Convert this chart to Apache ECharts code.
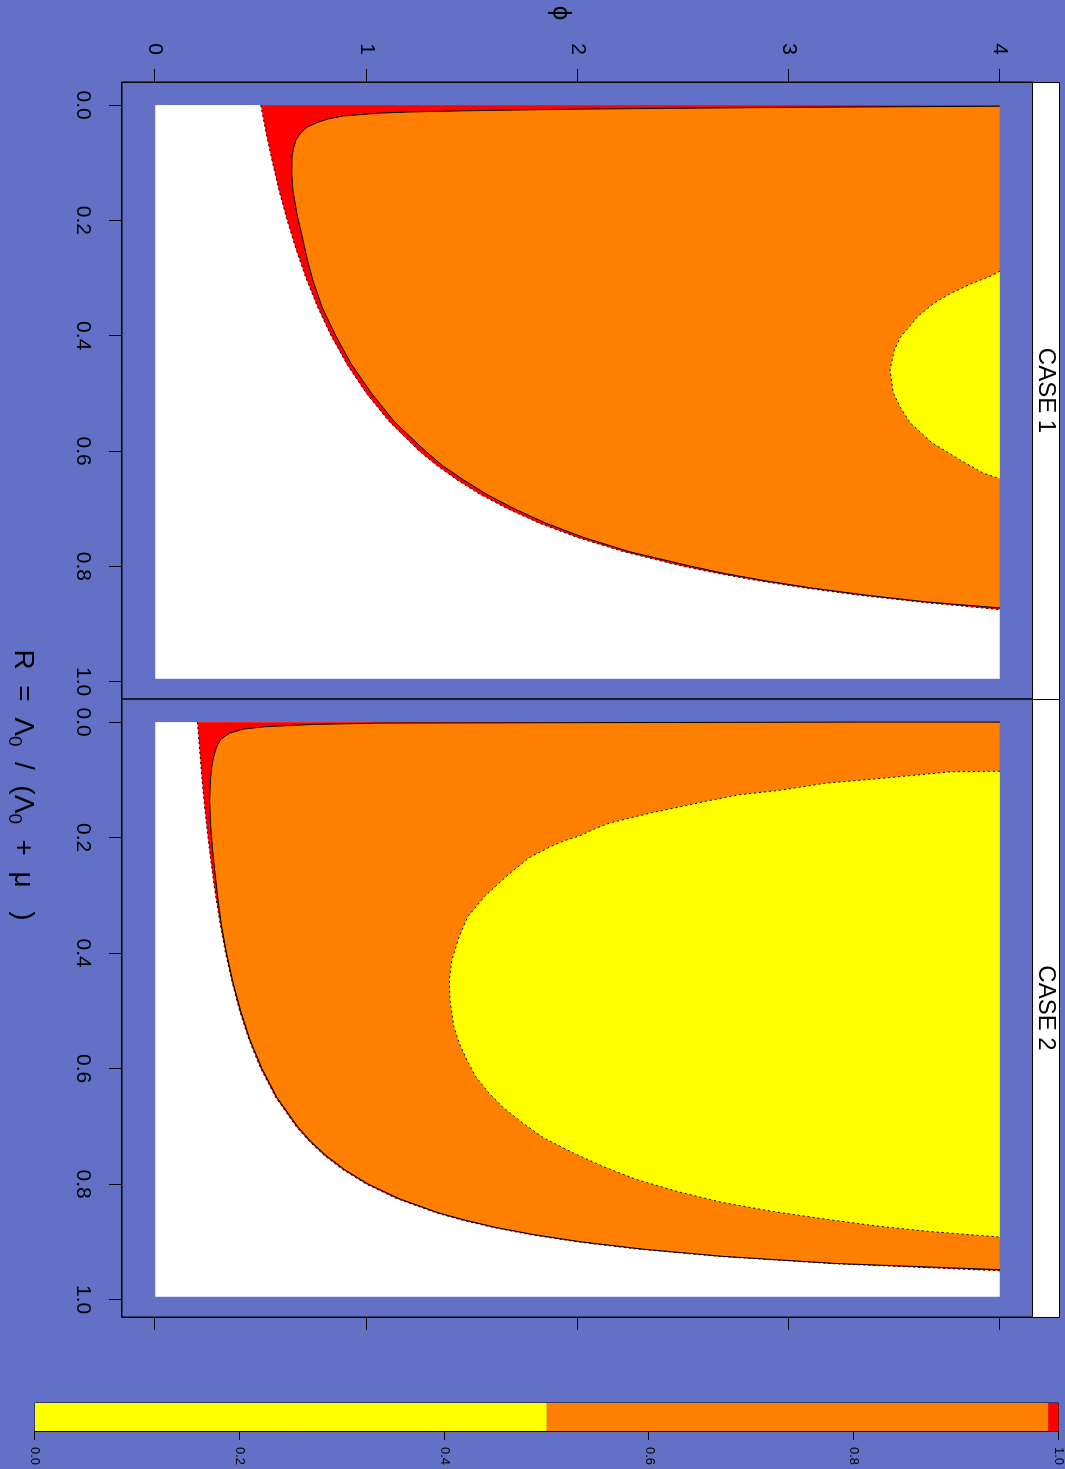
<!DOCTYPE html>
<html>
<head>
<meta charset="utf-8">
<script src="https://cdn.jsdelivr.net/npm/echarts@6/dist/echarts.min.js"></script>
<style>
  html, body { margin: 0; padding: 0; width: 1065px; height: 1469px; background: #6270c6; overflow: hidden; }
  /* the plot is laid out landscape and turned a quarter clockwise, like the reference */
  #chart { position: absolute; left: 0; top: 0; width: 1469px; height: 1065px;
    transform-origin: 0 0; transform: translate(1065px, 0) rotate(90deg); }
</style>
</head>
<body>
<div id="chart"></div>
<script>
var rTicks = [0, 0.2, 0.4, 0.6, 0.8, 1.0]
var phiTicks = [0, 1, 2, 3, 4]
var keyTicks = [0, 0.2, 0.4, 0.6, 0.8, 1.0]
var panelNames = ['CASE 1', 'CASE 2']
var rDomain = [0, 0.995]
var phiDomain = [0, 4]

// level boundaries, as [R, phi]
// CASE 1
var white1 = [[0, 0.5], [0.05, 0.526], [0.1, 0.556], [0.15, 0.588], [0.2, 0.625], [0.25, 0.667],
  [0.3, 0.714], [0.35, 0.769], [0.4, 0.833], [0.45, 0.909], [0.5, 1.0], [0.55, 1.111], [0.6, 1.25],
  [0.625, 1.333], [0.65, 1.429], [0.675, 1.538], [0.7, 1.667], [0.725, 1.818], [0.75, 2.0],
  [0.775, 2.222], [0.8, 2.5], [0.8125, 2.667], [0.825, 2.857], [0.8375, 3.077], [0.85, 3.333],
  [0.8625, 3.636], [0.875, 4.0]]
var orange1 = [[0.002, 4.0], [0.004, 3.0], [0.007, 2.0], [0.01, 1.45], [0.012, 1.2], [0.014, 1.06],
  [0.019, 0.89], [0.024, 0.82], [0.03, 0.77], [0.038, 0.72], [0.048, 0.69], [0.06, 0.667],
  [0.075, 0.655], [0.09, 0.648], [0.12, 0.647], [0.147, 0.652], [0.19, 0.672], [0.234, 0.70],
  [0.27, 0.722], [0.303, 0.746], [0.35, 0.79], [0.4, 0.855], [0.45, 0.93], [0.5, 1.025], [0.55, 1.135],
  [0.6, 1.28], [0.625, 1.36], [0.65, 1.46], [0.675, 1.57], [0.7, 1.70], [0.725, 1.85], [0.75, 2.03],
  [0.775, 2.25], [0.8, 2.54], [0.8125, 2.70], [0.825, 2.89], [0.8375, 3.11], [0.85, 3.37],
  [0.8615, 3.65], [0.872, 4.0]]
var yellow1 = [[0.288, 4.0], [0.296, 3.96], [0.309, 3.87], [0.326, 3.77], [0.343, 3.69], [0.367, 3.61],
  [0.385, 3.57], [0.402, 3.53], [0.425, 3.50], [0.459, 3.48], [0.499, 3.495], [0.525, 3.53],
  [0.551, 3.575], [0.586, 3.68], [0.615, 3.81], [0.638, 3.92], [0.648, 4.0]]
// CASE 2
var white2 = [[0, 0.2], [0.05, 0.211], [0.1, 0.222], [0.15, 0.235], [0.2, 0.25], [0.25, 0.267],
  [0.3, 0.286], [0.35, 0.308], [0.4, 0.333], [0.45, 0.364], [0.5, 0.4], [0.55, 0.444], [0.6, 0.5],
  [0.65, 0.571], [0.7, 0.667], [0.725, 0.727], [0.75, 0.8], [0.775, 0.889], [0.8, 1.0], [0.825, 1.143],
  [0.85, 1.333], [0.8625, 1.455], [0.875, 1.6], [0.8875, 1.778], [0.9, 2.0], [0.9125, 2.286],
  [0.925, 2.667], [0.9375, 3.2], [0.95, 4.0]]
var orange2 = [[0, 4.0], [0, 3.35], [0.001, 2.0], [0.0017, 1.063], [0.004, 0.75], [0.008, 0.52],
  [0.012, 0.42], [0.019, 0.353], [0.03, 0.31], [0.043, 0.291], [0.06, 0.277], [0.078, 0.268],
  [0.1, 0.262], [0.135, 0.258], [0.18, 0.263], [0.221, 0.272], [0.26, 0.283], [0.303, 0.296],
  [0.35, 0.313], [0.4, 0.338], [0.45, 0.368], [0.5, 0.405], [0.55, 0.449], [0.6, 0.506], [0.65, 0.577],
  [0.7, 0.674], [0.725, 0.735], [0.75, 0.808], [0.775, 0.898], [0.8, 1.01], [0.825, 1.155],
  [0.85, 1.345], [0.8625, 1.47], [0.875, 1.615], [0.8875, 1.795], [0.9, 2.02], [0.9125, 2.31],
  [0.925, 2.69], [0.9375, 3.23], [0.948, 4.0]]
var yellow2 = [[0.085, 4.0], [0.086, 3.77], [0.097, 3.45], [0.106, 3.17], [0.118, 2.96], [0.126, 2.76],
  [0.137, 2.61], [0.147, 2.48], [0.157, 2.35], [0.166, 2.25], [0.175, 2.15], [0.185, 2.08],
  [0.197, 2.01], [0.205, 1.94], [0.216, 1.87], [0.235, 1.77], [0.268, 1.66], [0.302, 1.56],
  [0.337, 1.48], [0.371, 1.44], [0.412, 1.405], [0.446, 1.393], [0.481, 1.396], [0.527, 1.414],
  [0.556, 1.44], [0.585, 1.476], [0.614, 1.518], [0.642, 1.58], [0.668, 1.65], [0.694, 1.74],
  [0.72, 1.84], [0.746, 1.98], [0.77, 2.125], [0.792, 2.28], [0.813, 2.475], [0.832, 2.69],
  [0.847, 2.92], [0.862, 3.2], [0.873, 3.43], [0.882, 3.67], [0.891, 3.98], [0.892, 4.0]]

// colour key breaks
var keyBreaks = [0, 0.5, 0.99, 1.0]

var levelColors = ['#ffff00', '#ff8000', '#ff0000']
var font = 'Liberation Sans, Arial, Helvetica, sans-serif'

function poly(idx, pts, fill, z) {
  return {
    type: 'custom', xAxisIndex: idx, yAxisIndex: idx, z: z, silent: true, clip: true,
    data: [pts[0]],
    renderItem: function (params, api) {
      return {
        type: 'polygon',
        shape: { points: pts.map(function (p) { return api.coord(p) }) },
        style: { fill: fill }
      }
    }
  }
}

function curve(idx, pts, type) {
  return {
    type: 'line', xAxisIndex: idx, yAxisIndex: idx, data: pts, symbol: 'none', z: 6, silent: true,
    lineStyle: { color: '#000', width: 1, type: type }
  }
}

function panelSeries(idx, white, orange, yellow) {
  var box = [[rDomain[0], phiDomain[0]], [rDomain[1], phiDomain[0]], [rDomain[1], phiDomain[1]], [rDomain[0], phiDomain[1]]]
  return [
    poly(idx, box, '#ffffff', 1),
    poly(idx, white.concat([[0, phiDomain[1]]]), levelColors[2], 2),
    poly(idx, orange, levelColors[1], 3),
    poly(idx, yellow, levelColors[0], 4),
    curve(idx, white, [2, 3]),
    curve(idx, orange, 'solid'),
    curve(idx, yellow, [2, 3])
  ]
}

function rAxis(idx) {
  return {
    type: 'value', gridIndex: idx, min: -0.04, max: 1.03, position: 'bottom',
    axisLine: { show: true, onZero: false, lineStyle: { color: '#000' } },
    axisTick: { show: true, customValues: rTicks, length: 13, lineStyle: { color: '#000' } },
    axisLabel: { customValues: rTicks, fontSize: 21, color: '#000', margin: 29, fontFamily: font,
      formatter: function (v) { return v.toFixed(1) } },
    splitLine: { show: false }
  }
}

function phiAxis(idx, side, labels) {
  return {
    type: 'value', gridIndex: idx, min: -0.157, max: 4.157, position: side,
    axisLine: { show: true, onZero: false, lineStyle: { color: '#000' } },
    axisTick: { show: true, customValues: phiTicks, length: 13, lineStyle: { color: '#000' } },
    axisLabel: { show: labels, customValues: phiTicks, fontSize: 21, color: '#000', margin: 27, fontFamily: font },
    splitLine: { show: false }
  }
}

var keyData = keyBreaks.slice(0, -1).map(function (v, i) { return [v, keyBreaks[i + 1]] })

var chart = echarts.init(document.getElementById('chart'))
chart.setOption({
  animation: false,
  backgroundColor: '#6270c6',
  textStyle: { fontFamily: font },
  grid: [
    { left: 82, top: 32, width: 617, height: 911, show: true, borderColor: '#000', borderWidth: 1, backgroundColor: 'transparent' },
    { left: 699, top: 32, width: 618, height: 911, show: true, borderColor: '#000', borderWidth: 1, backgroundColor: 'transparent' },
    { left: 1403, top: 4, width: 28, height: 1026, show: true, borderColor: '#000', borderWidth: 1, backgroundColor: 'transparent' }
  ],
  xAxis: [rAxis(0), rAxis(1), { type: 'value', gridIndex: 2, min: 0, max: 1, show: false }],
  yAxis: [
    phiAxis(0, 'left', true),
    phiAxis(1, 'right', false),
    {
      type: 'value', gridIndex: 2, min: 0, max: 1, position: 'right',
      axisLine: { show: true, onZero: false, lineStyle: { color: '#000' } },
      axisTick: { show: true, customValues: keyTicks, length: 9, lineStyle: { color: '#000' } },
      axisLabel: { customValues: keyTicks, fontSize: 13, color: '#000', margin: 16, fontFamily: font,
        formatter: function (v) { return v.toFixed(1) } },
      splitLine: { show: false }
    }
  ],
  series: panelSeries(0, white1, orange1, yellow1)
    .concat(panelSeries(1, white2, orange2, yellow2))
    .concat([{
      type: 'custom', xAxisIndex: 2, yAxisIndex: 2, silent: true, z: 2,
      data: keyData,
      renderItem: function (params, api) {
        var p0 = api.coord([0, api.value(0)])
        var p1 = api.coord([1, api.value(1)])
        return {
          type: 'rect',
          shape: { x: p0[0], y: p1[1], width: p1[0] - p0[0], height: p0[1] - p1[1] },
          style: { fill: levelColors[params.dataIndex] }
        }
      }
    }]),
  graphic: [
    { type: 'rect', z: 10, shape: { x: 82.5, y: 5.5, width: 617, height: 27 }, style: { fill: '#fff', stroke: '#000', lineWidth: 1 } },
    { type: 'rect', z: 10, shape: { x: 699.5, y: 5.5, width: 618, height: 27 }, style: { fill: '#fff', stroke: '#000', lineWidth: 1 } },
    { type: 'text', z: 11, x: 390.5, y: 19, style: { text: panelNames[0], align: 'center', verticalAlign: 'middle', fontSize: 24, fontFamily: font, fill: '#000' } },
    { type: 'text', z: 11, x: 1008, y: 19, style: { text: panelNames[1], align: 'center', verticalAlign: 'middle', fontSize: 24, fontFamily: font, fill: '#000' } },
    { type: 'text', z: 11, x: 13, y: 505, style: { text: 'ϕ', align: 'center', verticalAlign: 'middle', fontSize: 26, fontFamily: font, fill: '#000' } },
    {
      type: 'text', z: 11, x: 785, y: 1044,
      style: {
        text: '{n|R  =  Λ}{s|0}{n|  /  (Λ}{s|0}{n|  +  μ}{s|   }{n| )}',
        align: 'center', verticalAlign: 'middle', fill: '#000',
        rich: {
          n: { fontSize: 28, fontFamily: font, verticalAlign: 'top' },
          s: { fontSize: 19, fontFamily: font, verticalAlign: 'bottom', padding: [13, 0, 0, 0] }
        }
      }
    }
  ]
})
</script>
</body>
</html>
